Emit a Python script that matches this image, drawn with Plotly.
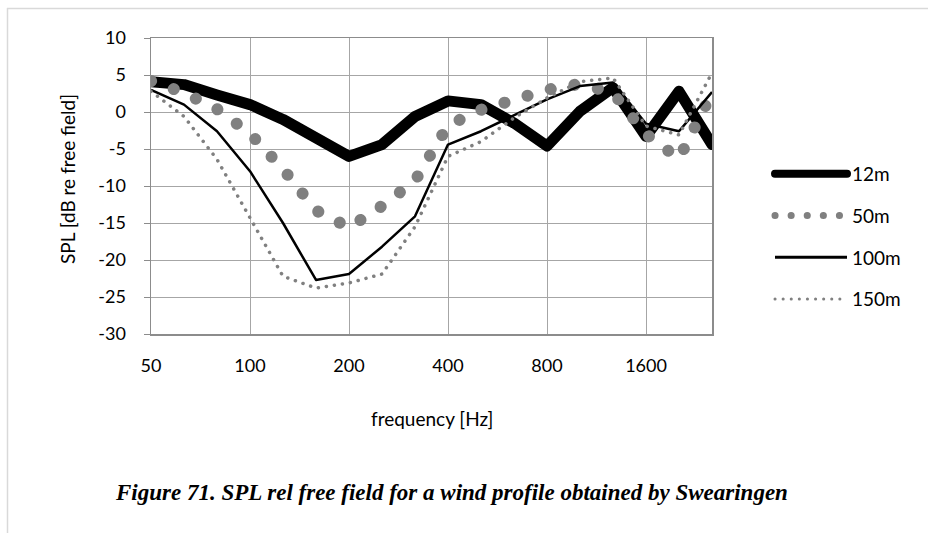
import plotly.graph_objects as go

# 1/3-octave band centre frequencies (category axis)
frequencies = ["50", "63", "80", "100", "125", "160", "200", "250", "315", "400",
               "500", "630", "800", "1000", "1250", "1600", "2000", "2500"]
tick_labels = ["50", "100", "200", "400", "800", "1600"]

spl_12m = [4.1, 3.7, 2.3, 1.0, -1.0, -3.7, -6.0, -4.4, -0.6, 1.5,
           1.0, -1.5, -4.6, 0.1, 3.3, -3.3, 2.8, -4.4]
spl_50m = [4.2, 2.6, 0.4, -2.9, -7.7, -13.3, -15.6, -12.7, -9.3, -1.8,
           0.3, 1.7, 3.0, 3.8, 2.6, -3.0, -6.3, 2.6]
spl_100m = [3.0, 1.0, -2.6, -8.0, -15.0, -22.7, -21.9, -18.2, -14.1, -4.4,
            -2.6, -0.4, 1.7, 3.5, 4.0, -1.6, -2.6, 2.7]
spl_150m = [2.8, -0.6, -6.4, -14.3, -22.2, -23.8, -23.1, -21.9, -15.5, -6.0,
            -4.0, -0.8, 1.9, 4.1, 4.6, -1.9, -3.1, 5.3]

series_names = ["12m", "50m", "100m", "150m"]

W, H = 928, 533
L, R, T, B = 151, 712, 38, 334  # plot area in pixels


def px(x):
    return (x - L) / (R - L)


def py(y):
    return (B - y) / (B - T)


FONT = "Lato, 'Open Sans', sans-serif"

fig = go.Figure()
styles = [
    dict(color="black", width=11, dash="solid"),
    dict(color="#808080", width=12, dash="dot"),
    dict(color="black", width=2.5, dash="solid"),
    dict(color="#808080", width=3, dash="dot"),
]
for i, (name, vals, st) in enumerate(zip(series_names,
                                         [spl_12m, spl_50m, spl_100m, spl_150m],
                                         styles)):
    fig.add_trace(go.Scatter(x=frequencies, y=vals, mode="lines", name=name,
                             legendgroup="g%d" % i, line=st, hoverinfo="skip"))

grid_col = "#a6a6a6"
axis_col = "#8c8c8c"
fig.update_layout(
    width=W, height=H, autosize=False,
    margin=dict(l=L, r=W - R, t=T, b=H - B, pad=0),
    paper_bgcolor="white", plot_bgcolor="white",
    font=dict(family=FONT, size=18, color="black"),
    showlegend=True,
    legend=dict(x=px(770), y=py(155), xanchor="left", yanchor="top",
                traceorder="grouped", tracegroupgap=14, itemwidth=72,
                font=dict(family=FONT, size=19, color="black"),
                bgcolor="rgba(0,0,0,0)"),
    xaxis=dict(type="category", categoryorder="array", categoryarray=frequencies,
               range=[0, len(frequencies) - 1], tickmode="array",
               tickvals=tick_labels, ticktext=tick_labels,
               showgrid=True, gridcolor=grid_col, gridwidth=1,
               showline=True, linecolor=axis_col, linewidth=1.5, mirror=True,
               ticks="", ticklabelstandoff=15, zeroline=False,
               tickfont=dict(family=FONT, size=18, color="black")),
    yaxis=dict(range=[-30, 10], tickmode="array",
               tickvals=[10, 5, 0, -5, -10, -15, -20, -25, -30],
               ticktext=["10", "5", "0", "-5", "-10", "-15", "-20", "-25", "-30"],
               showgrid=True, gridcolor=grid_col, gridwidth=1,
               showline=True, linecolor=axis_col, linewidth=1.5, mirror=True,
               ticks="outside", ticklen=6, tickcolor=axis_col, tickwidth=1,
               ticklabelstandoff=14, zeroline=False,
               tickfont=dict(family=FONT, size=18, color="black")),
    annotations=[
        dict(text="frequency [Hz]", x=px(432), y=py(418), xref="paper", yref="paper",
             xanchor="center", yanchor="middle", showarrow=False,
             font=dict(family=FONT, size=19, color="black")),
        dict(text="SPL [dB re free field]", x=px(67), y=py(179), xref="paper", yref="paper",
             xanchor="center", yanchor="middle", showarrow=False, textangle=-90,
             font=dict(family=FONT, size=19, color="black")),
        dict(text="<b><i>Figure 71. SPL rel free field for a wind profile obtained by Swearingen</i></b>",
             x=px(113), y=py(492), xref="paper", yref="paper",
             xanchor="left", yanchor="middle", showarrow=False,
             font=dict(family="'Liberation Serif', 'Times New Roman', serif", size=23, color="black")),
    ],
    shapes=[
        dict(type="line", xref="paper", yref="paper", x0=px(7), x1=px(940), y0=py(8.5), y1=py(8.5),
             line=dict(color="#d9d9d9", width=1.5)),
        dict(type="line", xref="paper", yref="paper", x0=px(7.5), x1=px(7.5), y0=py(8), y1=py(545),
             line=dict(color="#d9d9d9", width=1.5)),
    ],
)

post = """
document.body.style.margin = '0';
document.body.style.overflow = 'hidden';
var gd = document.getElementById('{plot_id}');
function sty(el, w, da, cap) {
  if (!el) return;
  if (w) el.style.strokeWidth = w + 'px';
  if (da !== null) el.style.strokeDasharray = da;
  el.style.strokeLinecap = cap;
  el.style.strokeLinejoin = 'round';
}
var tr = gd.querySelectorAll('.scatterlayer .trace');
var cfg = [[11, '', 'round'], [12, '0.1 24', 'round'], [2.5, '', 'butt'], [3.5, '0.1 8', 'round']];
for (var i = 0; i < tr.length; i++) {
  tr[i].querySelectorAll('path.js-line').forEach(function(p){ sty(p, cfg[i][0], cfg[i][1], cfg[i][2]); });
}
var lg = gd.querySelectorAll('.legend .traces');
var lcfg = [[8, '', 'round'], [7, '0.1 16', 'round'], [3, '', 'butt'], [3, '0.1 8', 'round']];
for (var j = 0; j < lg.length; j++) {
  lg[j].querySelectorAll('.legendlines path').forEach(function(p){ sty(p, lcfg[j][0], lcfg[j][1], lcfg[j][2]); });
}
"""

fig.write_html("out.html", post_script=post, config={"displayModeBar": False, "staticPlot": True})
